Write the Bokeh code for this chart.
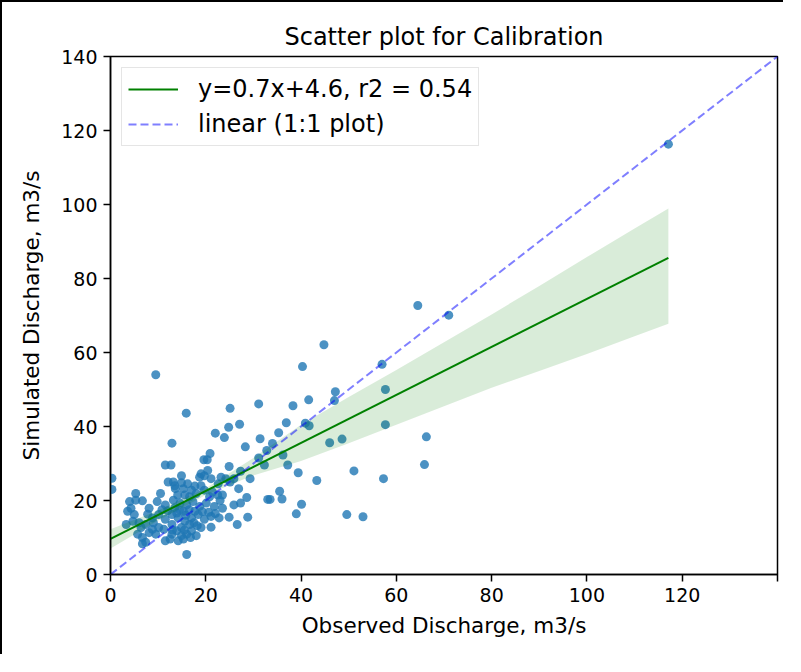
from bokeh.plotting import figure
from bokeh.models import Range1d, FixedTicker, Legend, LegendItem
from bokeh.embed import file_html
from bokeh.resources import INLINE

# ---- data ----
observed = [
    12.1, 13.2, 14.9, 17.7, 18.7, 19.7, 21.1, 23.2, 24.2, 25.1, 25.9,
    12.9, 11.5, 12.7, 22.0, 23.9, 20.9, 19.6, 20.3, 28.3, 24.9, 27.3, 29.3, 19.0, 20.4,
    5.3, 10.5, 13.6, 15.3, 14.1, 15.6, 16.6, 18.0, 19.7, 21.4, 22.5, 23.5, 26.9,
    4.0, 4.3, 5.3, 6.7, 8.1, 9.8, 11.5, 13.2, 14.6, 16.0, 17.3, 18.7, 20.1, 21.8, 23.5, 25.9, 27.3, 28.6,
    3.3, 4.7, 6.0, 7.4, 8.8, 10.1, 11.5, 12.9, 14.2, 15.6, 17.0, 18.4, 19.7, 21.1, 22.8, 24.9, 28.8, 26.6, 21.1, 19.0,
    5.7, 6.7, 8.1, 9.5, 11.2, 11.5, 12.9, 13.9, 14.9, 16.0, 17.0,
    6.7, 7.4, 16.0,
    14.9, 13.9, 15.3, 12.9, 14.9, 10.1, 8.8, 17.7, 16.6, 14.2, 15.3, 12.5, 6.4, 5.0, 3.6,
    13.5, 14.5, 15.8, 16.5, 17.5, 18.2, 19.3, 20.6, 22.0, 12.0, 13.0, 15.5, 16.8, 13.5,
    16.2, 17.0, 19.0, 20.8, 22.6, 18.0, 9.0, 10.8, 7.8, 23.0,
    44.8, 40.3, 9.5, 47.2, 47.0, 41.6, 38.3, 31.1, 25.1, 15.9, 36.9, 27.1, 24.8, 40.9, 41.7,
    35.3, 31.4, 34.0, 32.8, 46.0, 48.6, 31.1, 36.2, 32.3, 37.2, 39.4, 43.3, 35.5, 36.0, 33.0,
    33.5, 40.1, 39.0, 64.5, 71.0, 57.0, 57.7, 57.7, 66.3, 51.1, 57.3, 65.9, 49.6, 53.0, 117.1,
    0.3, 0.3,
]
simulated = [
    25.0, 25.0, 24.8, 23.9, 26.3, 26.7, 25.9, 26.3, 25.9, 25.0, 25.9,
    35.5, 29.6, 29.6, 38.2, 37.0, 32.7, 31.0, 31.0, 34.5, 29.2, 27.9, 25.9, 27.2, 28.1,
    21.9, 21.9, 23.2, 23.2, 21.5, 21.5, 21.0, 21.9, 22.8, 22.3, 21.5, 21.5, 23.2,
    19.7, 17.9, 20.1, 19.9, 17.9, 19.7, 18.8, 20.1, 19.3, 18.8, 19.7, 18.4, 19.3, 18.4, 17.9, 18.8, 19.3, 20.8,
    13.5, 14.4, 14.0, 13.5, 15.3, 16.2, 14.9, 16.2, 15.3, 14.4, 15.3, 16.2, 14.9, 15.7, 15.3, 15.5, 15.5, 13.5, 12.8, 12.7,
    10.9, 10.0, 11.3, 10.9, 12.2, 9.1, 10.9, 11.8, 10.5, 10.9, 11.8,
    8.3, 8.7, 5.4,
    26.7, 16.6, 17.1, 13.5, 12.7, 12.7, 12.2, 17.1, 13.5, 9.1, 9.6, 9.6, 12.7, 16.2, 17.1,
    18.0, 17.5, 16.0, 17.5, 14.0, 13.2, 17.0, 16.8, 16.5, 17.2, 12.0, 12.0, 10.0, 24.0,
    24.5, 22.8, 24.0, 21.0, 24.5, 10.5, 14.0, 17.5, 16.3, 20.0,
    62.1, 56.2, 54.0, 49.4, 47.0, 47.2, 45.6, 46.1, 44.9, 43.6, 41.0, 40.6, 39.8, 40.9, 40.2,
    38.3, 36.7, 35.4, 33.5, 35.6, 36.6, 31.5, 32.3, 29.6, 29.6, 27.5, 25.4, 22.5, 20.4, 20.3,
    20.3, 19.0, 16.4, 72.7, 70.1, 56.8, 50.0, 40.5, 37.2, 28.0, 25.9, 29.7, 16.2, 15.6, 116.3,
    26.0, 23.0,
]

# regression line and its confidence band
fit_x = [0, 117.1]
fit_y = [9.6, 85.6]
ci_x = [0, 10, 20, 30, 40, 50, 60, 70, 80, 90, 100, 110, 117.1]
ci_upper = [12.2, 17.3, 23.3, 31.5, 40.5, 48.0, 55.3, 62.8, 70.3, 78.0, 85.8, 93.5, 98.9]
ci_lower = [7.0, 14.6, 21.5, 26.8, 30.7, 35.5, 40.5, 45.5, 50.5, 55.0, 59.6, 64.4, 67.8]

# 1:1 line
one_x = [0, 140]
one_y = [0, 140]

ticks = [0, 20, 40, 60, 80, 100, 120, 140]

fit_label = "y=0.7x+4.6, r2 = 0.54"
one_label = "linear (1:1 plot)"

FONT = "DejaVu Sans"

p = figure(
    width=783, height=654,
    x_range=Range1d(0, 140), y_range=Range1d(0, 140),
    output_backend="svg", toolbar_location=None,
    min_border_left=108, min_border_right=8,
    min_border_top=54, min_border_bottom=82,
    title="Scatter plot for Calibration",
    styles={"border-top": "2px solid black", "border-left": "2px solid black"},
)

p.title.align = "center"
p.title.text_font = FONT
p.title.text_font_size = "24px"
p.title.text_font_style = "normal"
p.title.text_color = "black"
p.title.standoff = 12

p.grid.visible = False
p.outline_line_color = "black"
p.outline_line_width = 1.5
p.outline_line_alpha = 1.0
p.background_fill_color = "white"
p.border_fill_color = "white"

for ax in (p.xaxis[0], p.yaxis[0]):
    ax.ticker = FixedTicker(ticks=ticks)
    ax.axis_line_color = "black"
    ax.axis_line_width = 1.5
    ax.major_tick_line_color = "black"
    ax.major_tick_line_width = 1.5
    ax.major_tick_out = 7
    ax.major_tick_in = 0
    ax.minor_tick_line_color = None
    ax.major_label_text_font = FONT
    ax.major_label_text_font_size = "19px"
    ax.major_label_text_color = "black"
    ax.axis_label_text_font = FONT
    ax.axis_label_text_font_size = "21.5px"
    ax.axis_label_text_font_style = "normal"
    ax.axis_label_text_color = "black"

p.xaxis[0].major_label_overrides = {140: ""}
p.xaxis[0].axis_label = "Observed Discharge, m3/s"
p.yaxis[0].axis_label = "Simulated Discharge, m3/s"
p.xaxis[0].major_label_standoff = 6
p.yaxis[0].major_label_standoff = 6
p.xaxis[0].axis_label_standoff = 8
p.yaxis[0].axis_label_standoff = 14

p.scatter(observed, simulated, size=9, fill_color="#1f77b4", fill_alpha=0.8, line_color=None)
p.varea(x=ci_x, y1=ci_lower, y2=ci_upper, fill_color="green", fill_alpha=0.15)
fit_r = p.line(fit_x, fit_y, line_color="green", line_width=2)
one_r = p.line(one_x, one_y, line_color="blue", line_alpha=0.5, line_width=2, line_dash="8 4")

legend = Legend(
    items=[LegendItem(label=fit_label, renderers=[fit_r]),
           LegendItem(label=one_label, renderers=[one_r])],
    location="top_left",
    margin=11,
    padding=6,
    spacing=5,
    glyph_width=50,
    glyph_height=30,
    label_height=30,
    label_standoff=20,
    label_text_font=FONT,
    label_text_font_size="24px",
    label_text_color="black",
    border_line_color="#cccccc",
    border_line_width=1.5,
    background_fill_color="white",
    background_fill_alpha=0.8,
)
p.add_layout(legend)

open("out.html", "w").write(file_html(p, INLINE))
